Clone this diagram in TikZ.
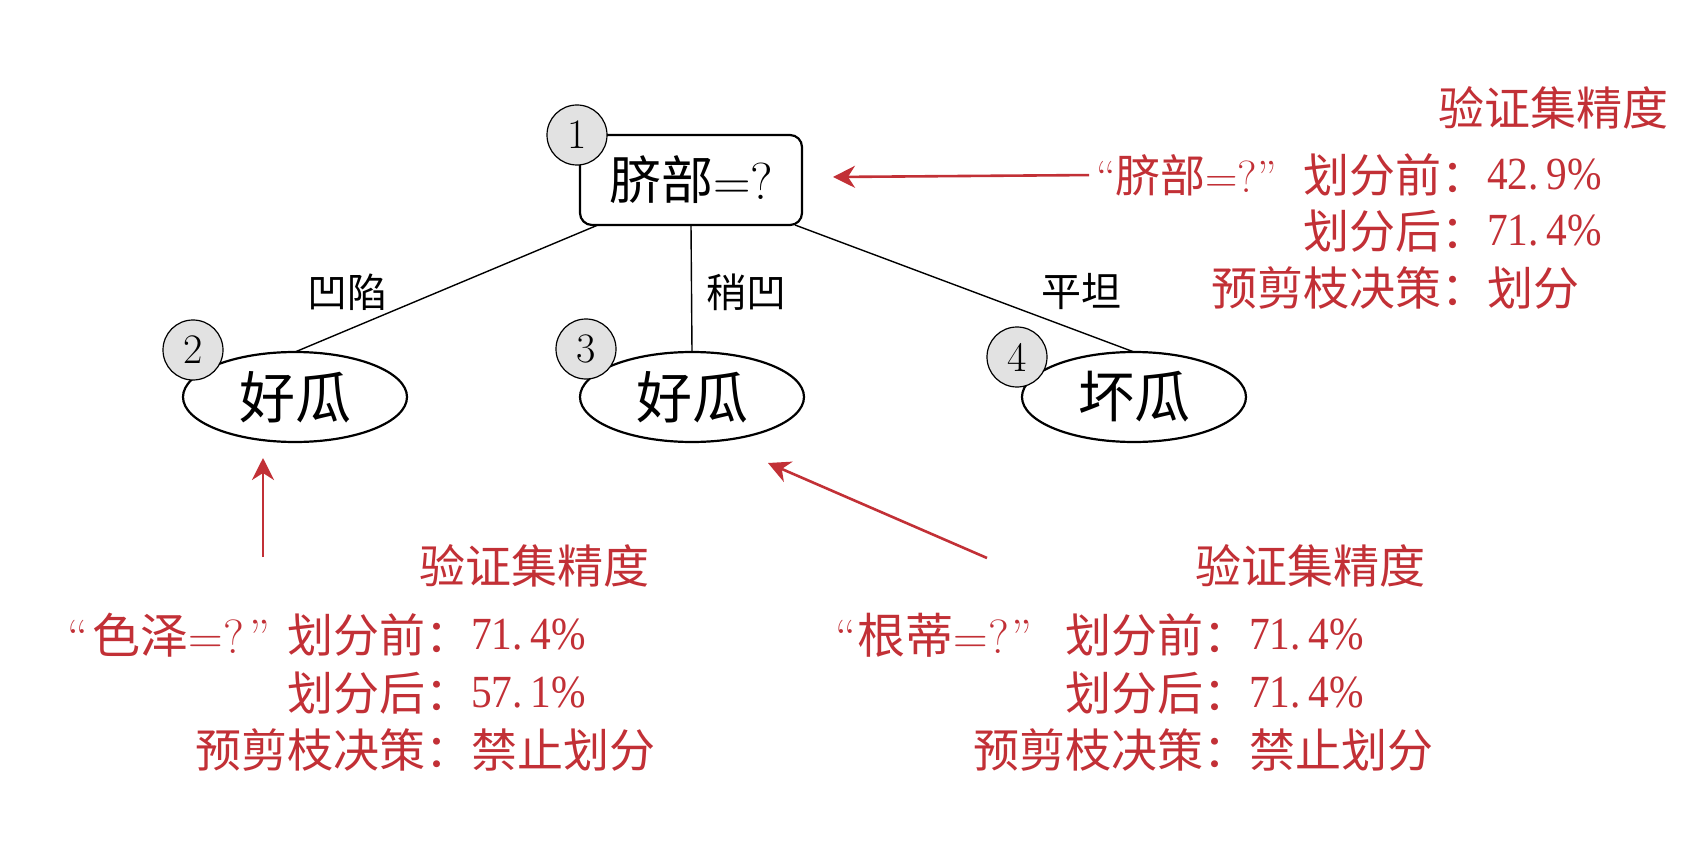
\documentclass[tikz,border=0pt]{standalone}
\usepackage{fontspec}
\newfontfamily\cjk{Noto Sans CJK SC}
\newfontfamily\numfont[FakeStretch=0.9]{Liberation Serif}
\usetikzlibrary{arrows.meta,calc,shapes.geometric}
\definecolor{redink}{RGB}{194,48,54}
\definecolor{badgegray}{RGB}{226,226,226}
\begin{document}
\begin{tikzpicture}[x=1pt,y=-1pt,
  every node/.style={inner sep=0pt, outer sep=0pt},
  rootbox/.style={draw, line width=2.2pt, rounded corners=12pt, minimum width=222pt, minimum height=90pt, font=\fontsize{52}{56}\selectfont},
  leaf/.style={draw, ellipse, line width=2.2pt, minimum width=224pt, minimum height=90pt, font=\cjk\fontsize{56}{60}\selectfont},
  badge/.style={circle, draw, line width=1.2pt, fill=badgegray, minimum size=60pt, font=\fontsize{42}{46}\selectfont},
  edge/.style={line width=1.4pt},
  elabel/.style={font=\cjk\fontsize{40}{44}\selectfont},
  redtxt/.style={text=redink, font=\cjk\fontsize{46}{50}\selectfont},
  redq/.style={text=redink, font=\fontsize{45}{48}\selectfont},
  redqb/.style={text=redink, font=\fontsize{48}{52}\selectfont},
  rednum/.style={text=redink, font=\numfont\fontsize{46}{50}\selectfont},
  redarrow/.style={draw=redink, line width=2.6pt, -{Stealth[length=22pt,width=22pt,inset=7pt]}},
]
\fill[white] (0,0) rectangle (1700,842);
\useasboundingbox (0,0) rectangle (1700,842);

% tree
\node[rootbox] (root) at (691,180) {{\cjk 脐部}=?};
\node[leaf] (leaf2) at (295,397) {好瓜};
\node[leaf] (leaf3) at (692,397) {好瓜};
\node[leaf] (leaf4) at (1134,397) {坏瓜};

\draw[edge] ($(root.south)+(-93,0)$) -- (leaf2.north);
\draw[edge] (root.south) -- (leaf3.north);
\draw[edge] ($(root.south)+(104,0)$) -- (leaf4.north);

\node[elabel] (l2) at (347,292) {凹陷};
\node[elabel] (l3) at (746,292) {稍凹};
\node[elabel] (l4) at (1081,292) {平坦};

\node[badge] (b1) at (577,135) {1};
\node[badge] (b2) at (193,350) {2};
\node[badge] (b3) at (586,349) {3};
\node[badge] (b4) at (1017,357) {4};

% top-right block
\node[redtxt, anchor=west] (t1) at (1438,108) {验证集精度};
\node[redq, anchor=west] (q1) at (1096,175) {“{\cjk 脐部}=?”};
\node[redtxt, anchor=east] (t1a) at (1487,175) {划分前：};
\node[rednum, anchor=west] (t1an) at (1487,175) {42.\kern8pt 9\%};
\node[redtxt, anchor=east] (t1b) at (1487,231) {划分后：};
\node[rednum, anchor=west] (t1bn) at (1487,231) {71.\kern8pt 4\%};
\node[redtxt, anchor=east] (t1c) at (1487,288) {预剪枝决策：};
\node[redtxt, anchor=west] (t1cv) at (1487,288) {划分};

% bottom-left block
\node[redtxt, anchor=west] (t2) at (419,566) {验证集精度};
\node[redqb, anchor=west] (q2) at (67,635) {“\kern5pt{\cjk 色泽}=?\kern5pt”};
\node[redtxt, anchor=east] (t2a) at (471,635) {划分前：};
\node[rednum, anchor=west] (t2an) at (471,635) {71.\kern8pt 4\%};
\node[redtxt, anchor=east] (t2b) at (471,693) {划分后：};
\node[rednum, anchor=west] (t2bn) at (471,693) {57.\kern8pt 1\%};
\node[redtxt, anchor=east] (t2c) at (471,750) {预剪枝决策：};
\node[redtxt, anchor=west] (t2cv) at (471,750) {禁止划分};

% bottom-right block
\node[redtxt, anchor=west] (t3) at (1195,566) {验证集精度};
\node[redqb, anchor=west] (q3) at (835,635) {“\kern2pt{\cjk 根蒂}=?\kern2pt”};
\node[redtxt, anchor=east] (t3a) at (1249,635) {划分前：};
\node[rednum, anchor=west] (t3an) at (1249,635) {71.\kern8pt 4\%};
\node[redtxt, anchor=east] (t3b) at (1249,693) {划分后：};
\node[rednum, anchor=west] (t3bn) at (1249,693) {71.\kern8pt 4\%};
\node[redtxt, anchor=east] (t3c) at (1249,750) {预剪枝决策：};
\node[redtxt, anchor=west] (t3cv) at (1249,750) {禁止划分};

% red arrows
\coordinate (a1tip) at (833,177);
\coordinate (a2tail) at (263,557);
\coordinate (a2tip) at (263,458);
\coordinate (a3tail) at (987,558);
\coordinate (a3tip) at (768,463);
\draw[redarrow, shorten <=7pt] (q1.west) -- (a1tip);
\draw[redarrow] (a2tail) -- (a2tip);
\draw[redarrow] (a3tail) -- (a3tip);
\end{tikzpicture}
\end{document}
